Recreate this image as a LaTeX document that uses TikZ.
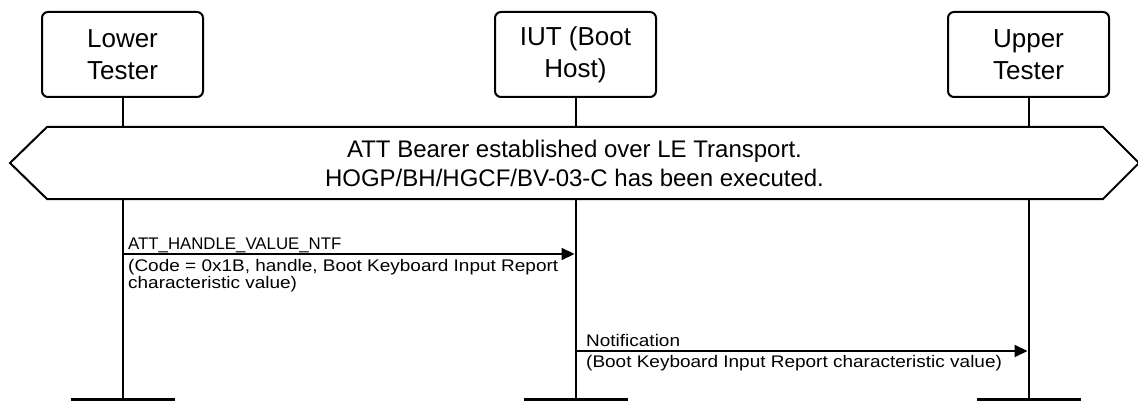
\documentclass[tikz,border=0pt]{standalone}
\usepackage{fontspec}
\setmainfont{Liberation Sans}
\newfontfamily\widefont[FakeStretch=1.13]{Liberation Sans}
\usetikzlibrary{arrows.meta}
\begin{document}
\begin{tikzpicture}[x=1pt,y=-1pt,
  entity/.style={draw,line width=2pt,rounded corners=6pt,minimum width=161pt,minimum height=85pt,align=center,font=\fontsize{26}{32}\selectfont,inner sep=0pt},
  life/.style={line width=2pt},
  msg/.style={line width=2pt,-{Triangle[length=13pt,width=12pt]}},
  lbl/.style={font=\fontsize{16.8}{15.5}\selectfont,inner sep=0pt,align=left},
  wlbl/.style={font=\widefont\fontsize{16.8}{15.5}\selectfont,inner sep=0pt,align=left},
  bar/.style={line width=4pt},
  hexa/.style={line width=2pt,fill=white},
  cond/.style={font=\fontsize{24}{29}\selectfont,align=center,inner sep=0pt}]
\useasboundingbox (0,0) rectangle (1138,401);
% entities
\node[entity] (lt) at (122.5,54.5) {Lower\\Tester};
\node[entity] (iut) at (575.5,54.5) {IUT (Boot\\Host)};
\node[entity] (ut) at (1028.5,54.5) {Upper\\Tester};
% lifeline ends
\coordinate (ltb) at (122.5,399.5);
\coordinate (iutb) at (575.5,399.5);
\coordinate (utb) at (1028.5,399.5);
\draw[life] (lt.south) -- (ltb);
\draw[life] (iut.south) -- (iutb);
\draw[life] (ut.south) -- (utb);
\draw[bar] ([xshift=-52pt]ltb) -- ([xshift=52pt]ltb);
\draw[bar] ([xshift=-52pt]iutb) -- ([xshift=52pt]iutb);
\draw[bar] ([xshift=-52pt]utb) -- ([xshift=52pt]utb);
% condition hexagon
\draw[hexa] (10,163) -- (47,127) -- (1103,127) -- (1139,163) -- (1103,199) -- (47,199) -- cycle;
\node[cond] (c1) at (574.5,163) {ATT Bearer established over LE Transport.\\HOGP/BH/HGCF/BV-03-C has been executed.};
% message 1
\coordinate (m1s) at (122.5,254);
\coordinate (m1e) at (574.5,254);
\draw[msg] (m1s) -- (m1e);
\node[lbl,anchor=base west] (m1a) at (128,249) {ATT\_HANDLE\_VALUE\_NTF};
\node[wlbl,anchor=north west] (m1b) at (128,259.5) {(Code = 0x1B, handle, Boot Keyboard Input Report\\characteristic value)};
% message 2
\coordinate (m2s) at (575.5,351);
\coordinate (m2e) at (1027.5,351);
\draw[msg] (m2s) -- (m2e);
\node[wlbl,anchor=base west] (m2a) at (586,346) {Notification};
\node[wlbl,anchor=north west] (m2b) at (586,355.5) {(Boot Keyboard Input Report characteristic value)};
\end{tikzpicture}
\end{document}
